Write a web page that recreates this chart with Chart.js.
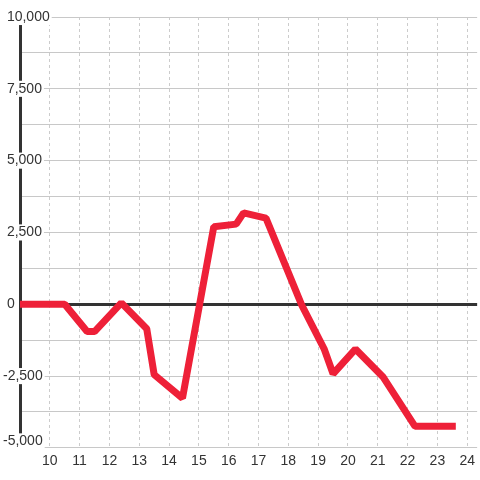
<!DOCTYPE html>
<html>
<head>
<meta charset="utf-8">
<script src="https://cdn.jsdelivr.net/npm/chart.js@4.4.1/dist/chart.umd.min.js"></script>
<style>
  html, body { margin: 0; padding: 0; background: #fff; }
</style>
</head>
<body>
<canvas id="chart" width="480" height="480"></canvas>
<script>
// values
const xValues = [9, 10.5, 11.25, 11.5, 12.4, 13.25, 13.5, 14.45, 15.5, 16.25, 16.5, 17.25, 18.45, 19.2, 19.5, 20.25, 21.17, 22.25, 23.5];
const yValues = [0, 0, -950, -950, 50, -850, -2450, -3270, 2700, 2790, 3180, 3000, -30, -1550, -2420, -1560, -2520, -4250, -4250];

const xTicks = [10, 11, 12, 13, 14, 15, 16, 17, 18, 19, 20, 21, 22, 23, 24];
const yTicks = [-5000, -3750, -2500, -1250, 0, 1250, 2500, 3750, 5000, 6250, 7500, 8750, 10000];
const yLabelled = [-5000, -2500, 0, 2500, 5000, 7500, 10000];

const font = { family: "'Liberation Sans', Arial, sans-serif", size: 14, lineHeight: 1.15 };

/* ---------------- LABELS ---------------- */

function yLabel(v) {
    if (!yLabelled.includes(v)) {
        return "";
    }
    const text = v.toLocaleString("en-US");
    return v < 0 ? text : " " + text;
}

// the lowest y label sits a little above its grid line
const liftBottomLabel = {
    id: "liftBottomLabel",
    beforeDraw(chart) {
        const scale = chart.scales.y;
        const items = scale.getLabelItems(chart.chartArea);
        items.forEach(item => {
            if (item.label === "-5,000" && !item.lifted) {
                item.options.translation[1] -= 6.5;
                item.lifted = true;
            }
        });
    }
};

/* ---------------- CHART ---------------- */

const ctx = document.getElementById("chart").getContext("2d");

new Chart(ctx, {
    type: "line",

    data: {
        datasets: [{
            data: xValues.map((x, i) => ({ x: x, y: yValues[i] })),
            borderColor: "#ee2038",
            borderWidth: 7,
            borderCapStyle: "square",
            borderJoinStyle: "bevel",
            pointRadius: 0,
            tension: 0,
            fill: false
        }]
    },

    plugins: [liftBottomLabel],

    options: {
        responsive: false,
        animation: false,
        layout: {
            padding: { left: 3, top: 17, right: 0, bottom: 6 }
        },

        plugins: {
            legend: { display: false },
            tooltip: { enabled: false }
        },

        scales: {
            x: {
                type: "linear",
                min: 9,
                max: 24.333,
                afterBuildTicks: s => { s.ticks = xTicks.map(v => ({ value: v })); },
                border: { display: false, dash: [3, 3] },
                grid: {
                    drawTicks: false,
                    color: "#cccccc",
                    lineWidth: 1
                },
                ticks: {
                    padding: 5,
                    maxRotation: 0,
                    autoSkip: false,
                    color: "#333333",
                    font: font,
                    callback: v => String(v)
                }
            },

            y: {
                type: "linear",
                min: -5000,
                max: 10000,
                afterBuildTicks: s => { s.ticks = yTicks.map(v => ({ value: v })); },
                afterFit: s => { s.width = 17; },
                border: { display: true, color: "#333333", width: 3 },
                grid: {
                    drawTicks: false,
                    color: c => (c.tick && c.tick.value === 0) ? "#333333" : "#c8c8c8",
                    lineWidth: c => (c.tick && c.tick.value === 0) ? 3 : 1
                },
                ticks: {
                    // mirrored so the labels are not clipped to the narrow axis box
                    mirror: true,
                    crossAlign: "near",
                    padding: -17,
                    color: "#333333",
                    font: font,
                    callback: v => yLabel(v),
                    showLabelBackdrop: c => yLabelled.includes(c.tick.value),
                    backdropColor: "#ffffff",
                    backdropPadding: { left: 2, right: 2, top: 0, bottom: 0 }
                }
            }
        }
    }
});
</script>
</body>
</html>
